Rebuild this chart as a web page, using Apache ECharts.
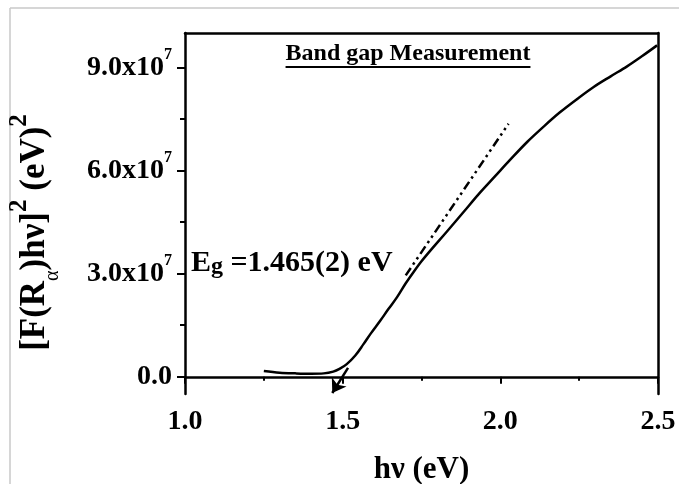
<!DOCTYPE html>
<html>
<head>
<meta charset="utf-8">
<script src="https://cdn.jsdelivr.net/npm/echarts@6/dist/echarts.min.js"></script>
<style>
  html, body { margin: 0; padding: 0; background: #fff; }
  #chart { width: 679px; height: 484px; }
</style>
</head>
<body>
<div id="chart"></div>
<script>
// photon energy (eV) and [F(R)hv]^2
var energy = [1.25, 1.30, 1.35, 1.40, 1.44, 1.47, 1.49, 1.513, 1.54, 1.566, 1.59, 1.619, 1.645, 1.672, 1.70, 1.725,
  1.75, 1.778, 1.83, 1.884, 1.93, 1.985, 2.03, 2.085, 2.14, 2.19, 2.245, 2.296, 2.35, 2.402, 2.45, 2.497];
var absorb = [0.17e7, 0.12e7, 0.10e7, 0.09e7, 0.10e7, 0.15e7, 0.23e7, 0.37e7, 0.62e7, 0.95e7, 1.27e7, 1.63e7,
  1.97e7, 2.31e7, 2.72e7, 3.05e7, 3.36e7, 3.67e7, 4.22e7, 4.80e7, 5.30e7, 5.85e7, 6.30e7, 6.83e7, 7.30e7,
  7.70e7, 8.09e7, 8.43e7, 8.74e7, 9.03e7, 9.33e7, 9.64e7];
// linear fit (dash-dot-dot) and the arrow to the intercept
var fitX = [1.70, 2.026];
var fitY = [2.95e7, 7.36e7];
var arrowX = [1.517, 1.467];
var arrowY = [0.26e7, -0.47e7];
var majorY = [0, 3e7, 6e7, 9e7];
var minorY = [1.5e7, 4.5e7, 7.5e7];

var serif = '"Liberation Serif", "Times New Roman", serif';
var chart = echarts.init(document.getElementById('chart'));

function txtWidth(str, font) {
  var ctx = document.createElement('canvas').getContext('2d');
  ctx.font = font;
  return ctx.measureText(str).width;
}

var titleText = 'Band gap Measurement';
var titleFont = 'bold 24px ' + serif;
var titleW = txtWidth(titleText, titleFont);
var titleCx = 408;

var option = {
  animation: false,
  backgroundColor: '#fff',
  grid: { left: 185, right: 21, top: 33, bottom: 90, containLabel: false, outerBoundsMode: 'none' },
  xAxis: [
    {
      type: 'value', min: 1.0, max: 2.5, interval: 0.5,
      name: 'h\u03bd (eV)', nameLocation: 'middle', nameGap: 60,
      nameTextStyle: { fontFamily: serif, fontWeight: 'bold', fontSize: 31, color: '#000' },
      axisLine: { lineStyle: { color: '#000', width: 2.5 } },
      axisTick: { length: 7, lineStyle: { color: '#000', width: 2 } },
      minorTick: { show: true, splitNumber: 2, length: 4, lineStyle: { color: '#000', width: 2 } },
      axisLabel: { margin: 14, fontFamily: serif, fontWeight: 'bold', fontSize: 28, color: '#000',
        formatter: function (v) { return v.toFixed(1); } },
      splitLine: { show: false }
    },
    {
      type: 'value', position: 'top', min: 1.0, max: 2.5,
      axisLine: { onZero: false, lineStyle: { color: '#000', width: 2.5 } },
      axisTick: { show: false }, axisLabel: { show: false }, splitLine: { show: false }
    }
  ],
  yAxis: [
    {
      type: 'value', min: -0.5e7, max: 10e7,
      name: '{n|[F(R}{sub|\u03b1}{n|)h\u03bd]}{sup|2}{n| (eV)}{sup|2}',
      nameLocation: 'middle', nameRotate: 90, nameGap: 122,
      nameTextStyle: {
        color: '#000',
        padding: [0, 38, 0, 0],
        rich: {
          n: { fontFamily: serif, fontWeight: 'bold', fontSize: 35, color: '#000', lineHeight: 38 },
          sub: { fontFamily: serif, fontSize: 20, color: '#000', verticalAlign: 'bottom', lineHeight: 27 },
          sup: { fontFamily: serif, fontWeight: 'bold', fontSize: 25, color: '#000', verticalAlign: 'top', lineHeight: 56 }
        }
      },
      axisLine: { onZero: false, lineStyle: { color: '#000', width: 2.5 } },
      axisTick: { customValues: majorY, length: 8, lineStyle: { color: '#000', width: 2 } },
      axisLabel: {
        customValues: majorY, margin: 13,
        formatter: function (v) {
          if (v === 0) return '{b|0.0}';
          return '{b|' + (v / 1e7).toFixed(1) + 'x10}{s|7}';
        },
        rich: {
          b: { fontFamily: serif, fontWeight: 'bold', fontSize: 28, color: '#000', lineHeight: 30 },
          s: { fontFamily: serif, fontWeight: 'bold', fontSize: 16, color: '#000', verticalAlign: 'top', lineHeight: 42 }
        }
      },
      splitLine: { show: false }
    },
    {
      type: 'value', min: -0.5e7, max: 10e7, position: 'left',
      axisLine: { show: false },
      axisTick: { customValues: minorY, length: 5, lineStyle: { color: '#000', width: 2 } },
      axisLabel: { show: false }, splitLine: { show: false }
    },
    {
      type: 'value', min: -0.5e7, max: 10e7, position: 'right',
      axisLine: { onZero: false, lineStyle: { color: '#000', width: 2.5 } },
      axisTick: { show: false }, axisLabel: { show: false }, splitLine: { show: false }
    }
  ],
  series: [
    {
      name: 'curve', type: 'line', showSymbol: false, smooth: 0.35,
      lineStyle: { color: '#000', width: 2.5 },
      data: energy.map(function (x, i) { return [x, absorb[i]]; })
    },
    {
      name: 'fit', type: 'line', showSymbol: false,
      lineStyle: { color: '#000', width: 2.5, type: [9, 4, 2.5, 4, 2.5, 4] },
      data: fitX.map(function (x, i) { return [x, fitY[i]]; })
    },
    {
      name: 'arrow', type: 'lines', coordinateSystem: 'cartesian2d',
      symbol: ['none', 'arrow'], symbolSize: 13,
      lineStyle: { color: '#000', width: 2.5, opacity: 1 },
      data: [{ coords: arrowX.map(function (x, i) { return [x, arrowY[i]]; }) }]
    }
  ],
  graphic: [
    { type: 'line', shape: { x1: 10, y1: 8, x2: 679, y2: 8 }, style: { stroke: '#c8c8c8', lineWidth: 1.5 } },
    { type: 'line', shape: { x1: 10, y1: 8, x2: 10, y2: 484 }, style: { stroke: '#c8c8c8', lineWidth: 1.5 } },
    {
      type: 'text', x: titleCx, y: 54,
      style: { text: titleText, font: titleFont, fill: '#000', align: 'center', verticalAlign: 'middle' }
    },
    {
      type: 'line', shape: { x1: titleCx - titleW / 2, y1: 67, x2: titleCx + titleW / 2, y2: 67 },
      style: { stroke: '#000', lineWidth: 1.8 }
    },
    {
      type: 'text', x: 191, y: 263,
      style: {
        text: '{e|E}{g|g}{e| =1.465(2) eV}',
        verticalAlign: 'middle',
        rich: {
          e: { fontFamily: serif, fontWeight: 'bold', fontSize: 30, fill: '#000', lineHeight: 32 },
          g: { fontFamily: serif, fontWeight: 'bold', fontSize: 24, fill: '#000', verticalAlign: 'bottom', lineHeight: 24 }
        }
      }
    }
  ]
};
chart.setOption(option);
</script>
</body>
</html>
